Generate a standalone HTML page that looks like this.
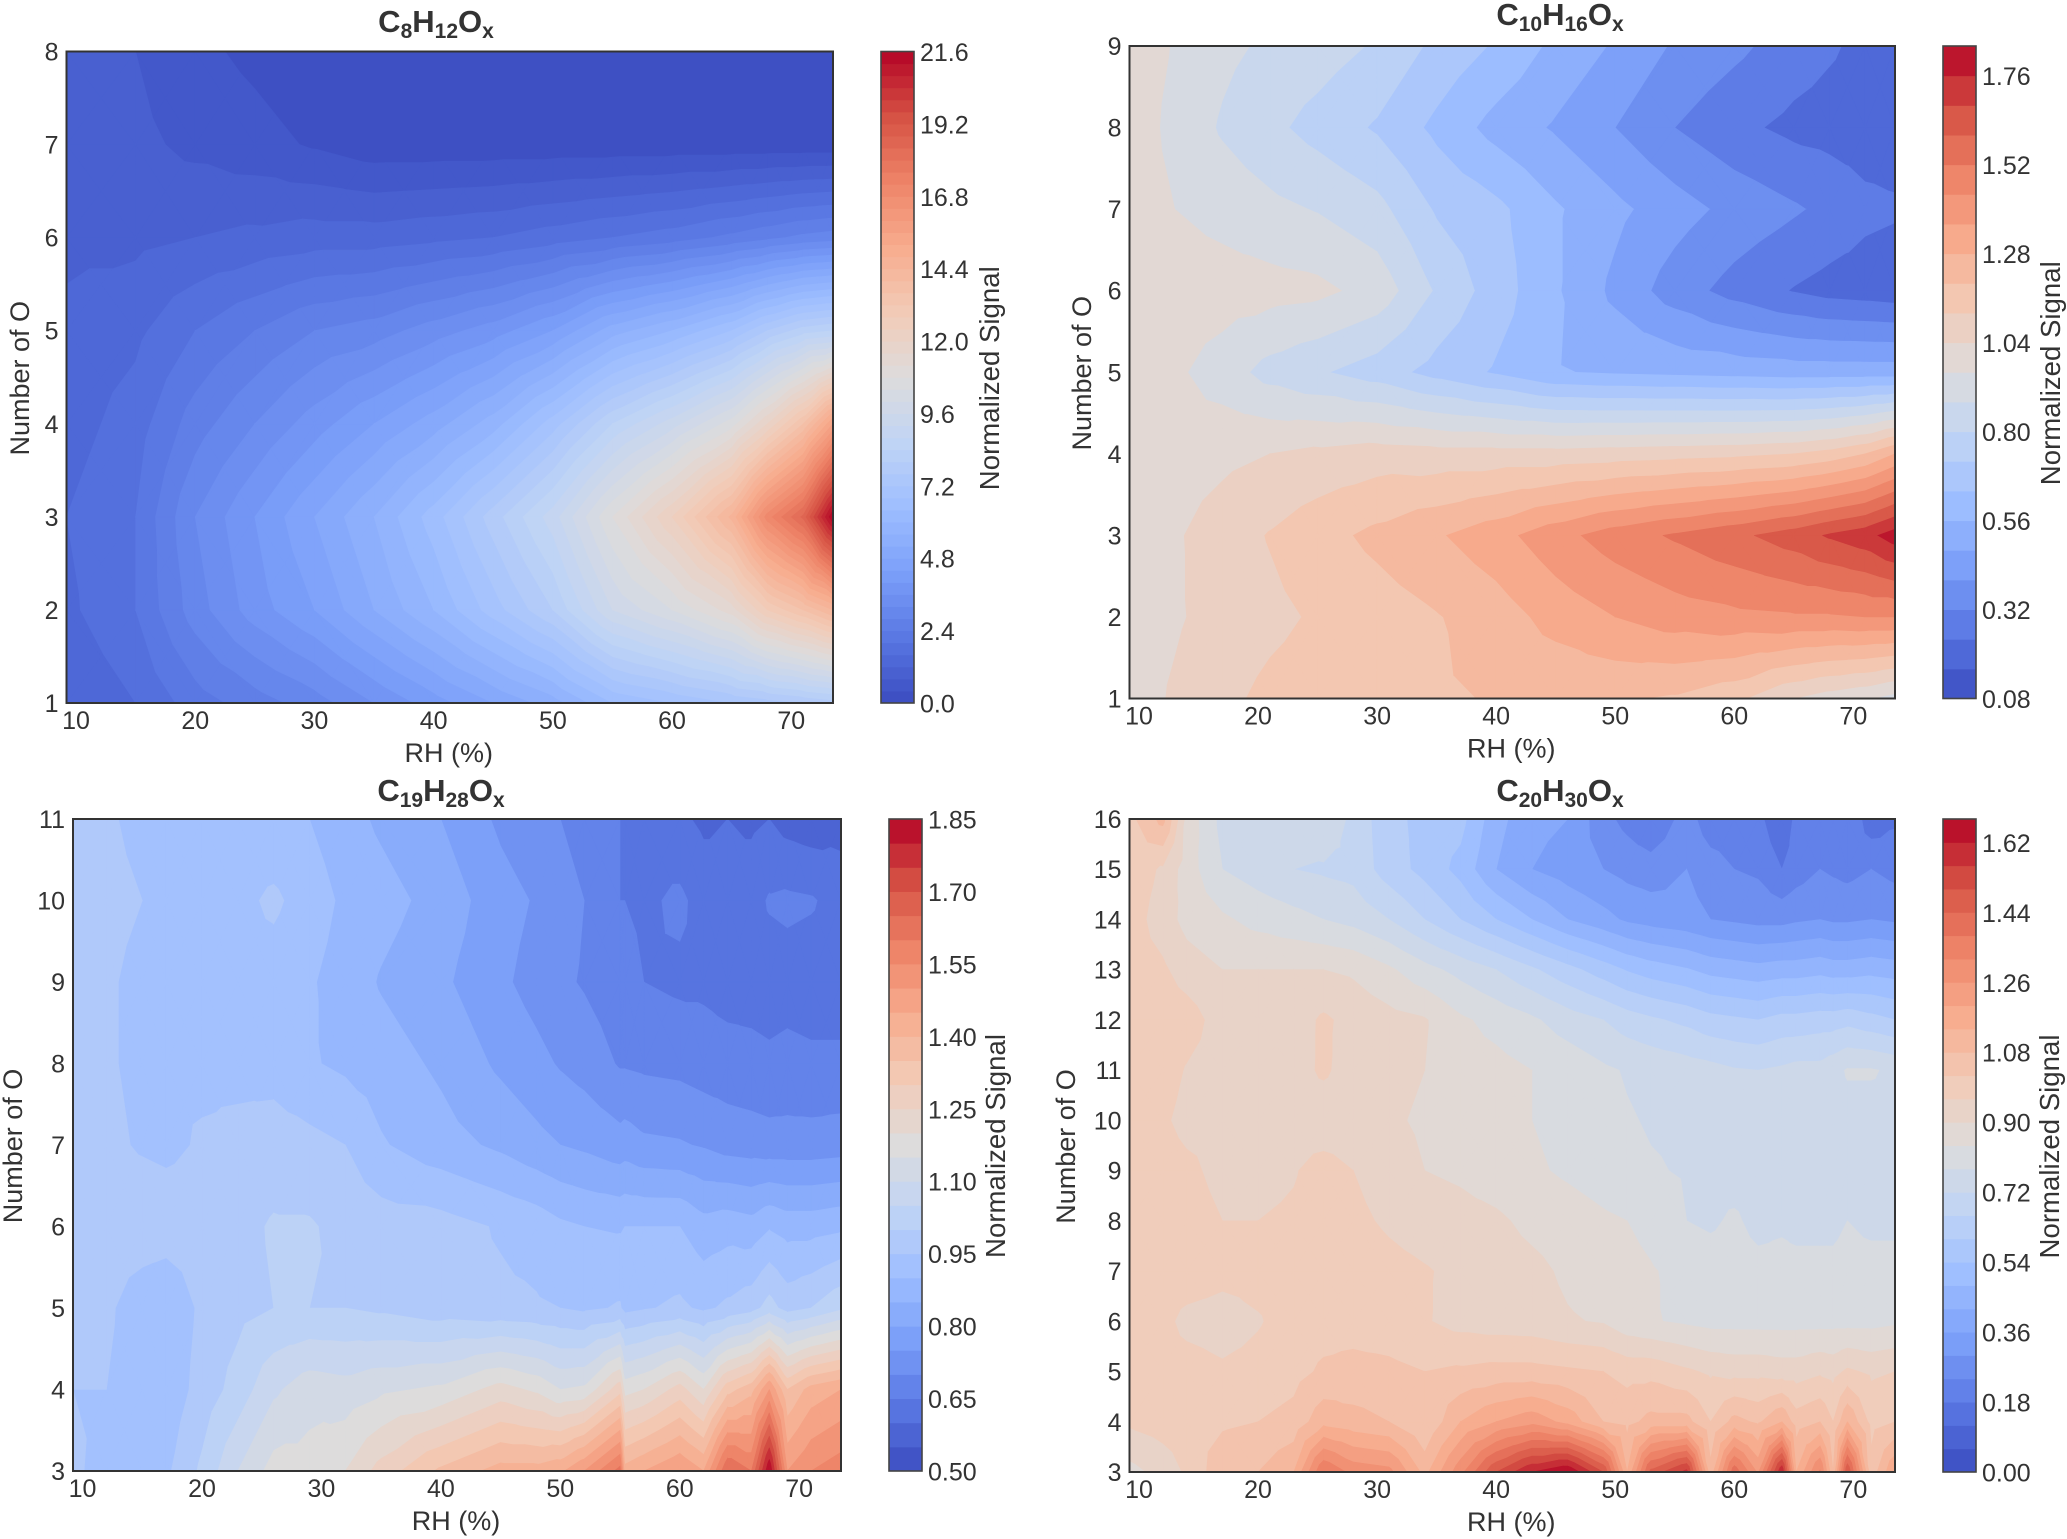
<!DOCTYPE html>
<html lang="en">
<head>
<meta charset="utf-8">
<title>Normalized signal contour maps</title>
<style>
  html, body { margin: 0; padding: 0; background: #fff; }
  svg { display: block; }
  text { font-family: "Liberation Sans", Arial, sans-serif; fill: #333; }
</style>
</head>
<body>
<svg id="figure" xmlns="http://www.w3.org/2000/svg" width="2067" height="1539" viewBox="0 0 2067 1539">
  <rect width="2067" height="1539" fill="#fff"/>
</svg>
<script>
/* ---------- shared colormap anchors (coolwarm) ---------- */
const coolwarmAnchors = ["#3b4cc0","#5977e3","#7b9ff9","#9ebeff","#c0d4f5","#dddcdc","#f2cbb7","#f7ac8e","#ee8468","#d65244","#b40426"];

/* ---------- C8H12Ox ---------- */
const c8RH = [9.2,15,20,25,30,35,40,45,50,55,60,65,68,71,73.5];
const c8Oxygen = [1,2,3,4,5,6,7,8];
const c8Signal = [
  [1.2,1.6,2.2,2.6,3,3.6,4.2,4.8,5.4,6.4,6.8,7.2,7.4,7.6,7.8],
  [1.5,2,3,3.8,4.4,5.2,6,7,8,9.6,10.4,11.4,12.8,13.6,14.4],
  [1.6,2,3.2,4,4.8,5.6,6.6,7.8,9,10.8,12.4,14.5,17,18.5,21.6],
  [1.4,1.8,2.6,3.2,3.8,4.4,5,5.8,7,8.4,9.4,10.6,12,13.6,15.6],
  [1.3,1.5,2,2.4,2.8,3,3.4,3.8,4.4,5.4,6,6.8,7.6,8.2,8.4],
  [1.1,1.1,1.2,1.3,1.4,1.4,1.5,1.6,1.8,2,2.2,2.5,2.7,2.9,3.0],
  [1,.9,.7,.55,.35,.15,.15,.15,.15,.15,.15,.15,.15,.15,.15],
  [1,.8,.5,.3,.1,.1,.1,.1,.1,.1,.1,.1,.1,.1,.1]
];
const c8ColorTicks = ["0.0","2.4","4.8","7.2","9.6","12.0","14.4","16.8","19.2","21.6"];

/* ---------- C10H16Ox ---------- */
const c10RH = [9.2,13,17,21,25,30,35,40,45,50,55,60,65,68,71,73.5];
const c10Oxygen = [1,2,3,4,5,6,7,8,9];
const c10Signal = [
  [1.0,1.05,1.1,1.14,1.16,1.175,1.19,1.205,1.21,1.21,1.19,1.14,1.04,1.0,.97,.93],
  [1.0,1.03,1.07,1.10,1.13,1.16,1.195,1.24,1.31,1.36,1.40,1.42,1.43,1.43,1.44,1.44],
  [.98,1.03,1.08,1.125,1.17,1.22,1.27,1.33,1.41,1.48,1.53,1.58,1.64,1.69,1.73,1.80],
  [.99,1.0,1.02,1.04,1.06,1.08,1.07,1.07,1.07,1.08,1.09,1.10,1.12,1.15,1.2,1.28],
  [1.0,.975,.92,.85,.81,.76,.69,.63,.565,.55,.54,.53,.52,.52,.52,.52],
  [1.02,1.01,1.0,.99,.98,.93,.79,.68,.57,.46,.36,.29,.235,.21,.20,.19],
  [1.0,.96,.93,.90,.875,.825,.71,.66,.57,.50,.435,.375,.33,.30,.26,.25],
  [1.0,.94,.87,.82,.77,.71,.62,.53,.47,.40,.32,.26,.22,.21,.20,.20],
  [1.0,.955,.90,.865,.84,.79,.70,.63,.54,.47,.39,.34,.28,.25,.22,.20]
];
const c10ColorTicks = ["0.08","0.32","0.56","0.80","1.04","1.28","1.52","1.76"];

/* ---------- C19H28Ox ---------- */
const c19RH = [9.2,12,15,17,20,23,26,29,32,35,40,45,48,50,52,55,55.4,57,60,62,64,66,67.5,69,71,73.5];
const c19Oxygen = [3,4,5,6,7,8,9,10,11];
const c19Signal = [
  [.96,.93,.905,.94,1.01,1.1,1.17,1.17,1.2,1.27,1.36,1.42,1.42,1.44,1.5,1.62,1.42,1.45,1.5,1.45,1.65,1.6,1.85,1.5,1.55,1.58],
  [.95,.95,.92,.915,.97,1.02,1.09,1.13,1.12,1.14,1.16,1.22,1.19,1.15,1.16,1.28,1.18,1.2,1.27,1.2,1.33,1.38,1.5,1.35,1.42,1.45],
  [.97,.96,.92,.91,.96,.985,1.0,1.0,1.0,.99,.97,.96,.955,.95,.94,.955,.935,.945,.96,.94,.96,.98,1.02,.98,1.0,1.04],
  [.98,.98,.98,.975,.975,.985,1.005,1.005,.985,.975,.97,.945,.93,.91,.90,.895,.90,.90,.90,.87,.88,.87,.895,.88,.88,.89],
  [.97,.96,.945,.94,.955,.965,.975,.965,.95,.905,.87,.84,.815,.80,.79,.77,.775,.76,.755,.745,.73,.725,.72,.72,.72,.725],
  [.97,.955,.94,.945,.94,.935,.93,.905,.89,.875,.84,.79,.765,.745,.73,.695,.695,.69,.685,.675,.67,.665,.66,.665,.66,.66],
  [.97,.955,.94,.94,.935,.93,.925,.905,.88,.845,.81,.76,.73,.71,.695,.67,.67,.65,.64,.64,.63,.63,.625,.63,.625,.625],
  [.97,.96,.95,.94,.93,.935,.96,.925,.89,.87,.83,.77,.745,.72,.70,.65,.65,.64,.66,.63,.62,.63,.655,.66,.655,.63],
  [.97,.955,.94,.935,.925,.915,.91,.90,.87,.84,.80,.74,.715,.70,.68,.65,.645,.63,.61,.59,.60,.59,.60,.58,.57,.58]
];
const c19ColorTicks = ["0.50","0.65","0.80","0.95","1.10","1.25","1.40","1.55","1.70","1.85"];

/* ---------- C20H30Ox ---------- */
const c20RH = [9.2,12,14,17,20,23,25.5,28,31,34,37,40,43,46,49,51,53,56,58,60,62,64,65.2,67.2,68.3,69.5,71.5,73.5];
const c20Oxygen = [3,4,5,6,7,8,9,10,11,12,13,14,15,16];
const c20Signal = [
  [.88,.92,.97,1.06,1.08,1.14,1.38,1.3,1.28,1.12,1.3,1.5,1.62,1.68,1.5,1.14,1.46,1.58,1.1,1.42,1.25,1.62,1.14,1.33,1.08,1.5,1.04,1.2],
  [.97,.99,1.0,1.01,1.02,1.04,1.12,1.10,1.08,1.02,1.14,1.2,1.24,1.18,1.08,1.06,1.1,1.1,1.02,1.1,1.07,1.14,1.05,1.08,1.02,1.14,1.0,1.02],
  [.98,.99,.99,.97,.98,1.0,1.03,1.04,1.035,1.02,1.03,1.04,1.04,1.03,1.02,1.0,1.0,.97,.95,.94,.94,.93,.93,.95,.94,.97,.95,.96],
  [1.0,.98,.94,.93,.955,.985,.995,.995,.985,.965,.94,.93,.925,.905,.895,.86,.845,.83,.82,.82,.82,.82,.82,.82,.82,.82,.82,.83],
  [1.0,1.0,1.0,.98,.98,.985,1.0,1.0,.98,.965,.945,.93,.915,.89,.875,.86,.845,.82,.81,.81,.80,.80,.80,.80,.80,.81,.81,.81],
  [1.0,1.0,.99,.96,.96,.97,.99,.975,.95,.93,.92,.91,.885,.87,.85,.84,.82,.78,.77,.79,.76,.77,.76,.76,.76,.78,.76,.76],
  [1.0,.99,.975,.94,.94,.955,.985,.96,.93,.90,.89,.87,.85,.83,.81,.795,.785,.775,.76,.75,.75,.75,.76,.78,.77,.77,.77,.78],
  [1.0,.97,.94,.94,.94,.93,.92,.92,.91,.89,.89,.87,.84,.82,.80,.785,.775,.77,.76,.76,.76,.76,.76,.76,.76,.76,.76,.765],
  [1.0,.99,.955,.93,.93,.935,.97,.93,.92,.90,.87,.86,.84,.82,.79,.775,.765,.75,.74,.725,.72,.73,.74,.74,.76,.785,.785,.77],
  [1.0,1.0,.99,.93,.93,.93,.97,.94,.92,.905,.85,.82,.79,.75,.72,.69,.67,.645,.62,.61,.60,.62,.62,.63,.63,.64,.62,.60],
  [.99,.97,.93,.90,.90,.90,.90,.89,.85,.80,.76,.72,.67,.62,.57,.535,.51,.485,.46,.45,.44,.45,.45,.46,.45,.45,.46,.45],
  [.99,.93,.88,.85,.82,.80,.78,.76,.72,.66,.60,.54,.48,.42,.38,.35,.335,.32,.30,.29,.28,.28,.29,.30,.29,.29,.30,.29],
  [1.0,.95,.87,.78,.75,.72,.71,.70,.63,.58,.52,.42,.36,.33,.30,.28,.27,.30,.27,.24,.23,.18,.21,.24,.23,.22,.24,.22],
  [1.0,1.1,.88,.76,.75,.75,.78,.70,.62,.58,.56,.44,.38,.36,.26,.22,.18,.27,.20,.2,.2,.12,.2,.18,.2,.24,.14,.17]
];
const c20ColorTicks = ["0.00","0.18","0.36","0.54","0.72","0.90","1.08","1.26","1.44","1.62"];

const rhTicks = [10,20,30,40,50,60,70];
const rhDomain = [9.2,73.5];

const NS = "http://www.w3.org/2000/svg";
const figure = document.getElementById("figure");

function mk(tag, attrs, parent, txt) {
  const e = document.createElementNS(NS, tag);
  for (const k in attrs) e.setAttribute(k, attrs[k]);
  if (txt !== undefined) e.textContent = txt;
  parent.appendChild(e);
  return e;
}
function hex(h) { return [1,3,5].map(i => parseInt(h.substr(i,2),16)); }
function coolwarm(t) {
  t = Math.max(0, Math.min(1, t)) * (coolwarmAnchors.length - 1);
  const i = Math.min(Math.floor(t), coolwarmAnchors.length - 2), f = t - i;
  const a = hex(coolwarmAnchors[i]), b = hex(coolwarmAnchors[i+1]);
  return "rgb(" + a.map((v,n) => Math.round(v + (b[n]-v)*f)).join(",") + ")";
}
function clipAbove(tri, L) {
  const out = [];
  for (let i = 0; i < 3; i++) {
    const a = tri[i], b = tri[(i+1)%3];
    const ina = a[2] >= L, inb = b[2] >= L;
    if (ina) out.push(a);
    if (ina !== inb) {
      const t = (L - a[2]) / (b[2] - a[2]);
      out.push([a[0]+t*(b[0]-a[0]), a[1]+t*(b[1]-a[1]), L]);
    }
  }
  return out;
}

function drawChart(c) {
  const g = mk("g", {}, figure);
  
  
  const L = c.left, R = c.right, T = c.top, B = c.bottom;
  const xScale = v => L + (v - rhDomain[0]) / (rhDomain[1] - rhDomain[0]) * (R - L);
  const oMin = c.oxygen[0], oMax = c.oxygen[c.oxygen.length-1];
  const yScale = v => B - (v - oMin) / (oMax - oMin) * (B - T);
  const cScale = v => B - (v - c.vmin) / (c.vmax - c.vmin) * (B - T);

  const clipId = c.name + "-clip";
  const defs = mk("defs", {}, g);
  const cp = mk("clipPath", {id: clipId}, defs);
  mk("rect", {x:L, y:T, width:R-L, height:B-T}, cp);

  const field = mk("g", {"clip-path": "url(#" + clipId + ")"}, g);
  
  

  const nBands = Math.round((c.vmax - c.vmin) / c.step);

  /* triangles from the value grid */
  const tris = [];
  for (let j = 0; j < c.oxygen.length - 1; j++) {
    for (let i = 0; i < c.rh.length - 1; i++) {
      const p = [
        [xScale(c.rh[i]),   yScale(c.oxygen[j]),   c.values[j][i]],
        [xScale(c.rh[i+1]), yScale(c.oxygen[j]),   c.values[j][i+1]],
        [xScale(c.rh[i+1]), yScale(c.oxygen[j+1]), c.values[j+1][i+1]],
        [xScale(c.rh[i]),   yScale(c.oxygen[j+1]), c.values[j+1][i]]
      ];
      const m = [(p[0][0]+p[2][0])/2, (p[0][1]+p[2][1])/2, (p[0][2]+p[1][2]+p[2][2]+p[3][2])/4];
      for (let k = 0; k < 4; k++) tris.push([p[k], p[(k+1)%4], m]);
    }
  }

  for (let b = 0; b < nBands; b++) {
    const level = c.vmin + b * c.step;
    const color = coolwarm((b + 0.5) / nBands);
    let d = "";
    if (b === 0) {
      d = "M" + L + " " + T + "H" + R + "V" + B + "H" + L + "Z";
    } else {
      for (const tri of tris) {
        const poly = clipAbove(tri, level - 1e-9);
        if (poly.length < 3) continue;
        d += "M" + poly.map(q => q[0].toFixed(1) + " " + q[1].toFixed(1)).join("L") + "Z";
      }
    }
    if (d) {
      const path = mk("path", {d: d, fill: color, stroke: color, "stroke-width": 0.6}, field);
      
      
    }
    const sw = mk("rect", {
      x: c.barLeft, y: cScale(level + c.step).toFixed(2),
      width: c.barRight - c.barLeft,
      height: (cScale(level) - cScale(level + c.step) + 0.5).toFixed(2),
      fill: color
    }, g);
    
    
  }

  const frame = mk("rect", {x:L, y:T, width:R-L, height:B-T, fill:"none", stroke:"#333", "stroke-width":2}, g);
  
  
  const barFrame = mk("rect", {x:c.barLeft, y:T, width:c.barRight-c.barLeft, height:B-T, fill:"none", stroke:"#444", "stroke-width":1.6}, g);
  
  

  const FS = 25;
  rhTicks.forEach(v => {
    const t = mk("text", {x: xScale(v), y: B + 26, "font-size": FS, "text-anchor": "middle"}, g, String(v));
    
    
  });
  c.oxygen.forEach(v => {
    const t = mk("text", {x: L - 8, y: yScale(v) + 9, "font-size": FS, "text-anchor": "end"}, g, String(v));
    
    
  });
  c.colorTicks.forEach(s => {
    const t = mk("text", {x: c.barRight + 6, y: cScale(parseFloat(s)) + 9.5, "font-size": FS}, g, s);
    
    
  });

  const xl = mk("text", {x: (L+R)/2 - 1, y: B + 59, "font-size": 27, "text-anchor": "middle"}, g, "RH (%)");
  
  

  const yl = mk("text", {"font-size": 27, "text-anchor": "middle",
    transform: "translate(" + c.yLabelX + "," + ((T+B)/2 + 1) + ") rotate(-90)"}, g, "Number of O");
  
  

  const cl = mk("text", {"font-size": 27.6, "text-anchor": "middle",
    transform: "translate(" + c.barLabelX + "," + ((T+B)/2 + 1) + ") rotate(-90)"}, g, "Normalized Signal");
  
  

  const title = mk("text", {x: c.titleX, y: c.titleY, "font-size": 31, "font-weight": "bold", "text-anchor": "middle"}, g);
  
  
  c.title.forEach((part, i) => {
    const isSub = i % 2 === 1;
    const prevSub = i % 2 === 0 && i > 0;
    const attrs = {"font-size": isSub ? 21 : 31};
    attrs.dy = isSub ? 6 : (prevSub ? -6 : 0);
    mk("tspan", attrs, title, part);
  });
}

drawChart({
  name: "c8h12ox", title: ["C","8","H","12","O","x"], titleX: 436, titleY: 32,
  rh: c8RH, oxygen: c8Oxygen, values: c8Signal, colorTicks: c8ColorTicks,
  vmin: 0, vmax: 21.6, step: 0.4,
  left: 66.5, right: 833, top: 51.5, bottom: 703,
  barLeft: 881, barRight: 914, yLabelX: 29, barLabelX: 999
});
drawChart({
  name: "c10h16ox", title: ["C","10","H","16","O","x"], titleX: 1560, titleY: 25,
  rh: c10RH, oxygen: c10Oxygen, values: c10Signal, colorTicks: c10ColorTicks,
  vmin: 0.08, vmax: 1.84, step: 0.08,
  left: 1129.5, right: 1895, top: 46, bottom: 698.5,
  barLeft: 1943, barRight: 1976, yLabelX: 1091, barLabelX: 2060
});
drawChart({
  name: "c19h28ox", title: ["C","19","H","28","O","x"], titleX: 441, titleY: 801,
  rh: c19RH, oxygen: c19Oxygen, values: c19Signal, colorTicks: c19ColorTicks,
  vmin: 0.5, vmax: 1.85, step: 0.05,
  left: 73, right: 841, top: 819, bottom: 1471,
  barLeft: 889, barRight: 922, yLabelX: 22, barLabelX: 1005
});
drawChart({
  name: "c20h30ox", title: ["C","20","H","30","O","x"], titleX: 1560, titleY: 801,
  rh: c20RH, oxygen: c20Oxygen, values: c20Signal, colorTicks: c20ColorTicks,
  vmin: 0, vmax: 1.68, step: 0.06,
  left: 1129.5, right: 1895, top: 819, bottom: 1472,
  barLeft: 1943, barRight: 1976, yLabelX: 1075, barLabelX: 2059
});
</script>
</body>
</html>
